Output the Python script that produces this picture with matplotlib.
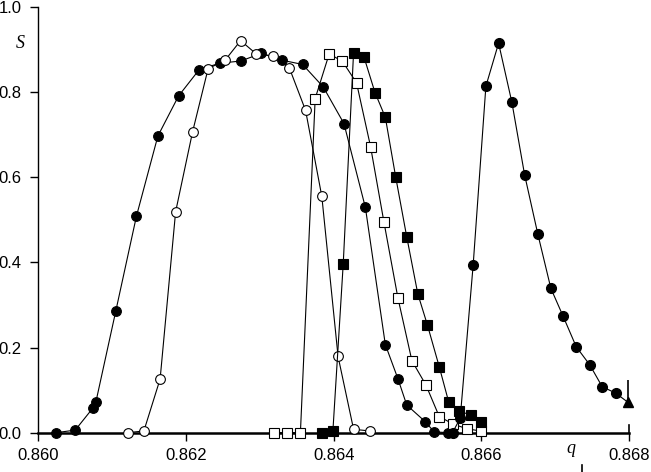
import matplotlib.pyplot as plt
import numpy as np

# order parameter S versus q, five series
q1 = [0.86024, 0.8605, 0.86074, 0.86078, 0.86105, 0.86133, 0.86162, 0.8619,
      0.86218, 0.86246, 0.86274, 0.86302, 0.8633, 0.86358, 0.86386, 0.86414,
      0.86443, 0.8647, 0.86487, 0.86499, 0.86524, 0.86536, 0.86555]
s1 = [0.0, 0.006, 0.058, 0.072, 0.286, 0.509, 0.697, 0.791,
      0.853, 0.868, 0.873, 0.891, 0.875, 0.865, 0.812, 0.726,
      0.529, 0.207, 0.127, 0.065, 0.026, 0.002, 0.0]

q2 = [0.86121, 0.86143, 0.86165, 0.86186, 0.86209, 0.8623, 0.86253, 0.86274,
      0.86295, 0.86318, 0.8634, 0.86362, 0.86384, 0.86406, 0.86427, 0.86449]
s2 = [0.0, 0.004, 0.126, 0.519, 0.707, 0.855, 0.875, 0.921,
      0.89, 0.885, 0.857, 0.757, 0.555, 0.179, 0.008, 0.004]

q3 = [0.86319, 0.86337, 0.86355, 0.86375, 0.86394, 0.86412, 0.86431, 0.8645,
      0.86468, 0.86487, 0.86506, 0.86525, 0.86543, 0.86562, 0.86581, 0.86599]
s3 = [0.0, 0.0, 0.0, 0.785, 0.89, 0.872, 0.822, 0.672,
      0.496, 0.317, 0.169, 0.112, 0.038, 0.02, 0.009, 0.004]

q4 = [0.86384, 0.86399, 0.86413, 0.86427, 0.86441, 0.86456, 0.8647, 0.86484,
      0.86499, 0.86514, 0.86527, 0.86543, 0.86556, 0.8657, 0.86586, 0.86599]
s4 = [0.0, 0.004, 0.397, 0.893, 0.883, 0.799, 0.741, 0.601,
      0.46, 0.326, 0.253, 0.155, 0.071, 0.05, 0.042, 0.024]

q5 = [0.86561, 0.865714, 0.86589, 0.866062, 0.866234, 0.866414, 0.866586,
      0.866766, 0.866942, 0.867109, 0.867285, 0.86747, 0.867637, 0.867819]
s5 = [0.0, 0.034, 0.395, 0.814, 0.915, 0.776, 0.606,
      0.466, 0.339, 0.273, 0.202, 0.159, 0.108, 0.093]

q_end = [0.867989]
s_end = [0.071]

xticks = [0.860, 0.862, 0.864, 0.866, 0.868]
yticks = [0.0, 0.2, 0.4, 0.6, 0.8, 1.0]

plt.rcParams["font.family"] = ["Liberation Sans", "DejaVu Sans"]

fig = plt.figure(figsize=(6.51, 4.72), dpi=100)
ax = fig.add_axes([0.0588, 0.0833, 0.9074, 0.9019])

lw = 0.8
ms = 7
ax.plot(q1, s1, "-o", color="black", lw=lw, ms=ms, mfc="black", mec="black", mew=0.8, clip_on=False, zorder=3)
ax.plot(q2, s2, "-o", color="black", lw=lw, ms=ms, mfc="white", mec="black", mew=0.8, clip_on=False, zorder=3)
ax.plot(q3, s3, "-s", color="black", lw=lw, ms=6.5, mfc="white", mec="black", mew=0.8, clip_on=False, zorder=3)
ax.plot(q4, s4, "-s", color="black", lw=lw, ms=6.5, mfc="black", mec="black", mew=0.8, clip_on=False, zorder=3)
ax.plot(q5 + q_end, s5 + s_end, "-", color="black", lw=lw, clip_on=False, zorder=3)
ax.plot(q5, s5, "o", color="black", ms=ms, clip_on=False, zorder=4)
ax.plot(q_end, s_end, "^", color="black", ms=6.5, clip_on=False, zorder=4)
# vertical bar above the last point
ax.vlines(q_end, s_end[0], 0.123, color="black", lw=1.2, zorder=4)

ax.set_xlim(0.860, 0.868)
ax.set_ylim(0.0, 1.0)
ax.set_xticks(xticks)
ax.set_yticks(yticks)
ax.xaxis.set_major_formatter(plt.FuncFormatter(lambda x, loc: "{:.3f}".format(x)))
ax.yaxis.set_major_formatter(plt.FuncFormatter(lambda y, loc: "{:.1f}".format(y)))
ax.tick_params(axis="both", direction="out", length=6, width=1, labelsize=12, colors="black")
ax.tick_params(axis="x", pad=5)
ax.tick_params(axis="y", pad=6)

for side in ["top", "right"]:
    ax.spines[side].set_visible(False)
ax.spines["left"].set_linewidth(1.0)
ax.spines["bottom"].set_linewidth(1.8)
ax.spines["bottom"].set_zorder(2)

# small upward tick at the right end of the q axis
ax.plot([0.868, 0.868], [0.0, 0.018], color="black", lw=1.2, clip_on=False)

ax.text(0.85975, 0.915, "S", fontsize=13, style="italic", family="Liberation Serif",
        ha="center", va="center")
ax.text(0.86721, -0.038, "q", fontsize=13, style="italic", family="Liberation Serif",
        ha="center", va="center")
fig.add_artist(plt.Line2D([581.5 / 651, 581.5 / 651], [0.0, 7 / 472], color="black", lw=1.2))

fig.savefig("out.png", dpi=100)
